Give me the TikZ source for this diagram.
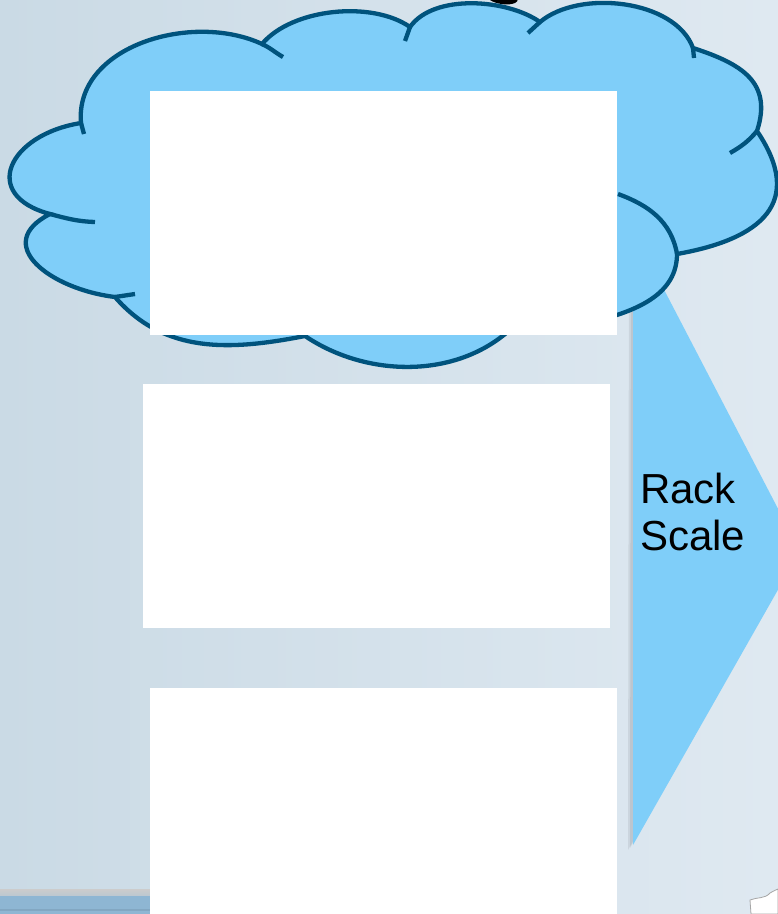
\documentclass[tikz,border=0pt]{standalone}
\usepackage{fontspec}
\setmainfont{Liberation Sans}
\definecolor{bgL}{RGB}{202,218,229}
\definecolor{bgR}{RGB}{223,233,241}
\definecolor{cloudfill}{RGB}{127,206,249}
\definecolor{cloudline}{RGB}{0,83,125}
\definecolor{stripblue}{RGB}{142,182,211}
\tikzset{
  cloudshape/.style={fill=cloudfill, draw=cloudline, line width=4.3pt, line join=miter},
  cloudtick/.style={draw=cloudline, line width=4.3pt},
  whitebox/.style={fill=white, draw=none, inner sep=0pt, outer sep=0pt, anchor=north west, minimum width=467pt},
  arrowshape/.style={fill=cloudfill, draw=none},
  labeltext/.style={font=\fontsize{42}{47}\selectfont, align=left, inner sep=0pt, text=black}
}
\begin{document}
\begin{tikzpicture}[x=1pt,y=1pt]
\useasboundingbox (0,0) rectangle (778,-914);
% background
\shade[left color=bgL, right color=bgR] (0,0) rectangle (778,-914);
\shade[top color=gray!40, bottom color=bgL!80!gray] (0,-889) rectangle (150,-896);
\fill[stripblue] (0,-896) rectangle (150,-914);
\fill[stripblue!80!black, opacity=.4] (0,-909) rectangle (150,-911);
\fill[white, draw=gray!70, line width=.8pt] (751,-914) -- (750,-900) .. controls (757,-897) and (765,-899) .. (770,-893) .. controls (773,-891) and (776,-890) .. (778,-889) -- (778,-914) -- cycle;
% fragment at top
\fill[black] (490,0) .. controls (496,-4) and (508,-6) .. (515,-3) .. controls (518,-1) and (518,0) .. (517,0) -- cycle;
% arrow (triangle) with soft shadow
\fill[black, opacity=.07] (629,-233) -- (797,-554) -- (628,-850) -- cycle;
\fill[black, opacity=.07] (631,-232) -- (798,-553) -- (630,-848) -- cycle;
\path[arrowshape] (633,-230) -- (800,-551) -- (633,-845) -- cycle;
% cloud outline
\path[cloudshape] (81,-123)
  to[out=95, in=155, looseness=1] (262,-44)
  to[out=50, in=145, looseness=0.8] (410,-27)
  to[out=55, in=145, looseness=0.8] (540,-22)
  to[out=40, in=110, looseness=0.85] (693,-48)
  to[out=-18, in=72, looseness=1.25] (757,-131)
  to[out=-56, in=10, looseness=1.5] (677,-254)
  to[out=-90, in=15, looseness=1] (600,-320)
  -- (515,-325)
  to[out=225, in=-34, looseness=0.93] (305,-336)
  to[out=191, in=-49, looseness=1] (115,-297)
  to[out=173, in=-153, looseness=1.6] (50,-214)
  to[out=165, in=-171, looseness=1.95] (81,-123)
  -- cycle;
% interior ticks of the cloud
\draw[cloudtick] (81,-123) -- (84,-134);
\draw[cloudtick] (262,-44) to[out=-25, in=150] (283,-57);
\draw[cloudtick] (410,-27) -- (405,-41);
\draw[cloudtick] (540,-22) -- (528,-33);
\draw[cloudtick] (693,-48) -- (694,-58);
\draw[cloudtick] (757,-131) to[out=-130, in=30] (730,-153);
\draw[cloudtick] (677,-254) to[out=100, in=-20] (618,-194);
\draw[cloudtick] (115,-297) -- (135,-294);
\draw[cloudtick] (50,-214) to[out=-15, in=178] (95,-222);
% white boxes
\node[whitebox, minimum height=244pt] (box1) at (150,-91) {};
\node[whitebox, minimum height=244pt] (box2) at (143,-384) {};
\node[whitebox, minimum height=226pt] (box3) at (150,-688) {};
% label
\node[labeltext, anchor=base west] (rack) at (640,-550) {Rack\\Scale};
\end{tikzpicture}
\end{document}
